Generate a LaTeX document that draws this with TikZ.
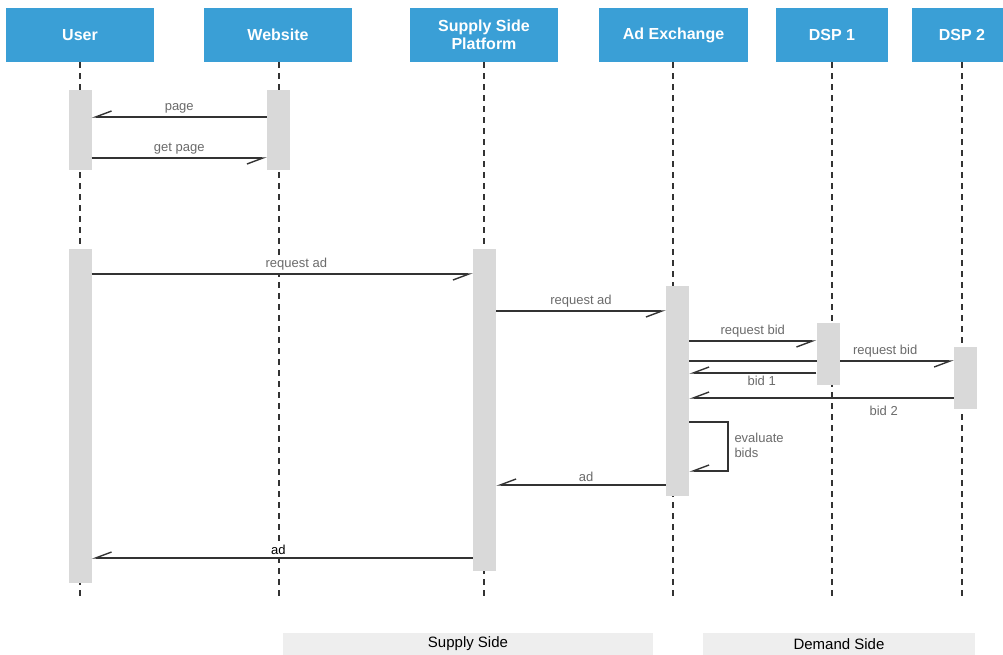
\documentclass[tikz,border=0pt]{standalone}
\usepackage{fontspec}
\setmainfont{Liberation Sans}
\usetikzlibrary{arrows.meta}
\definecolor{headblue}{HTML}{3A9FD6}
\definecolor{actgray}{HTML}{D9D9D9}
\definecolor{sidegray}{HTML}{EEEEEE}
\definecolor{linegray}{HTML}{333333}
\definecolor{lblgray}{HTML}{6B6B6B}
\begin{document}
\begin{tikzpicture}[x=1pt,y=-1pt,
  head/.style={fill=headblue, text=white, font=\bfseries\fontsize{16}{18}\selectfont, minimum height=54pt, inner sep=0pt, align=center},
  life/.style={draw=linegray, line width=1.2pt, dash pattern=on 6pt off 5pt},
  act/.style={fill=actgray, minimum width=23pt, inner sep=0pt},
  msg/.style={draw=linegray, line width=1.4pt, -{Straight Barb[right,length=16pt,width=12pt]}},
  lbl/.style={text=lblgray, fill=white, font=\fontsize{13}{15}\selectfont, inner sep=2pt, outer sep=1.5pt},
  side/.style={fill=sidegray, minimum height=22pt, inner sep=0pt, font=\fontsize{15}{17}\selectfont}]
\useasboundingbox (0,0) rectangle (1003,655);

\node[head, minimum width=148pt] (user) at (80,35) {User};
\node[head, minimum width=148pt] (web) at (278,35) {Website};
\node[head, minimum width=148pt] (ssp) at (484,35) {Supply Side\\Platform};
\node[head, minimum width=149pt] (adx) at (673.5,35) {Ad Exchange};
\node[head, minimum width=112pt] (dsp1) at (832,35) {DSP 1};
\node[head, minimum width=100pt] (dsp2) at (962,35) {DSP 2};

\coordinate (userend) at (80,597);
\coordinate (webend) at (279,597);
\coordinate (sspend) at (484,597);
\coordinate (adxend) at (673,597);
\coordinate (dsp1end) at (832,597);
\coordinate (dsp2end) at (962,597);
\draw[life] (user.south) -- (userend);
\draw[life] (web.south -| webend) -- (webend);
\draw[life] (ssp.south) -- (sspend);
\draw[life] (adx.south -| adxend) -- (adxend);
\draw[life] (dsp1.south) -- (dsp1end);
\draw[life] (dsp2.south) -- (dsp2end);

\node[act, minimum height=80pt] (user1) at (80,130) {};
\node[act, minimum height=80pt] (web1) at (278.5,130) {};
\node[act, minimum height=334pt] (user2) at (80,416) {};
\node[act, minimum height=322pt] (ssp1) at (484.5,410) {};
\node[act, minimum height=210pt] (adx1) at (677.5,391) {};

% DSP 1 box lies over this one
\draw[msg] (adx1.east |- 0,361) -- (954,361) node[lbl, above, pos=0.74] {request bid};

\node[act, minimum height=62pt] (dsp11) at (828,354) {};
\node[act, minimum height=62pt] (dsp21) at (965.5,378) {};

\draw[msg] (web1.west |- 0,117) -- (user1.east |- 0,117) node[lbl, above, midway] {page};
\draw[msg] (user1.east |- 0,158) -- (web1.west |- 0,158) node[lbl, above, midway] {get page};
\draw[msg] (user2.east |- 0,274) -- (ssp1.west |- 0,274) node[lbl, above, pos=0.537] {request ad};
\draw[msg] (ssp1.east |- 0,311) -- (adx1.west |- 0,311) node[lbl, above, midway] {request ad};
\draw[msg] (adx1.east |- 0,341) -- (dsp11.west |- 0,341) node[lbl, above, midway] {request bid};
\draw[msg] (dsp11.west |- 0,373) -- (adx1.east |- 0,373) node[lbl, below, pos=0.43] {bid 1};
\draw[msg] (dsp21.west |- 0,398) -- (adx1.east |- 0,398) node[lbl, below, pos=0.265, yshift=-5pt] {bid 2};
\draw[msg] (adx1.east |- 0,422) -- (728,422) -- (728,471) -- (adx1.east |- 0,471);
\node[lbl, anchor=west, align=left] (evalbids) at (731,445) {evaluate\\bids};
\draw[msg] (adx1.west |- 0,485) -- (ssp1.east |- 0,485) node[lbl, above, pos=0.47] {ad};
\draw[msg] (ssp1.west |- 0,558) -- (user2.east |- 0,558) node[lbl, above, pos=0.51, text=black] {ad};

\node[side, minimum width=370pt] (supply) at (468,644) {Supply Side};
\node[side, minimum width=272pt] (demand) at (839,644) {Demand Side};
\end{tikzpicture}
\end{document}
